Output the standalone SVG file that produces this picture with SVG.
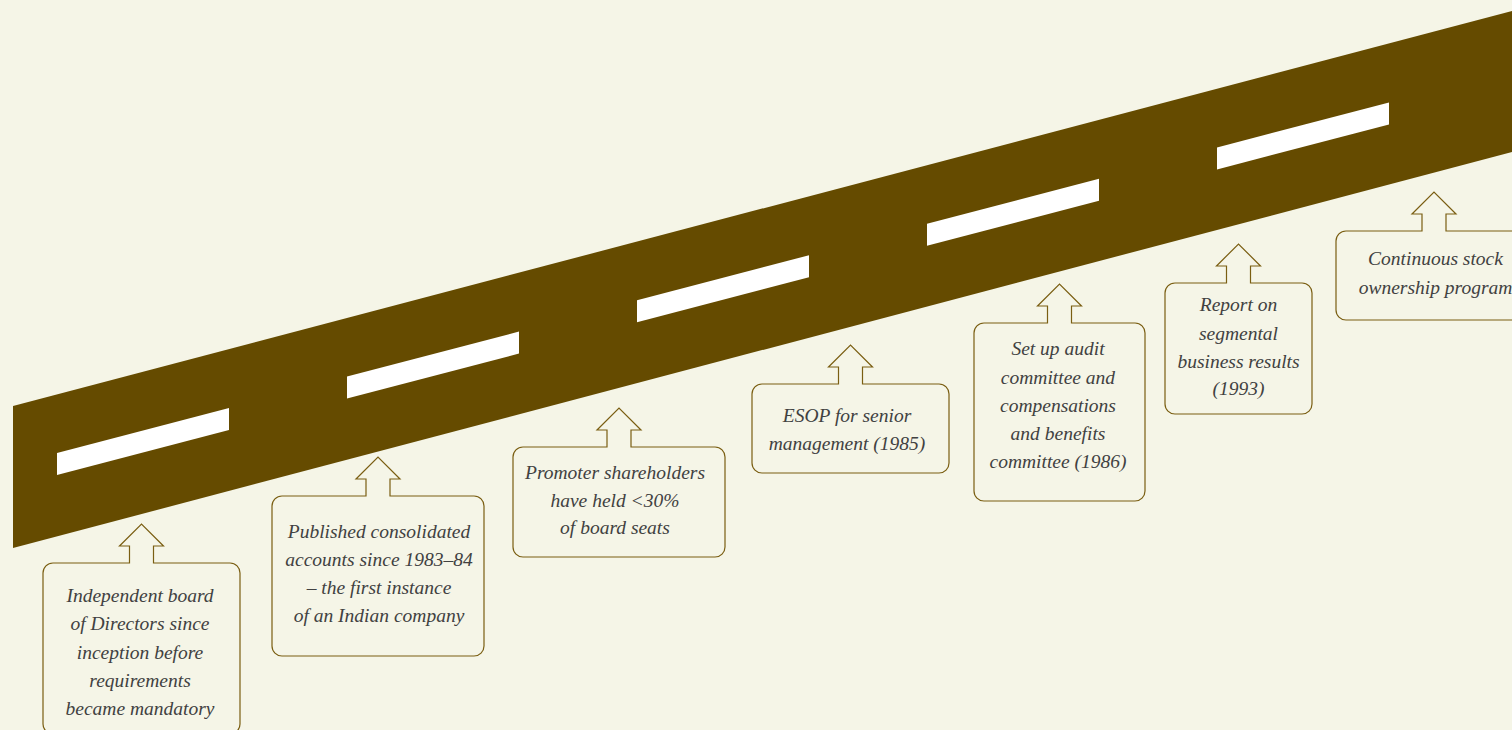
<svg xmlns="http://www.w3.org/2000/svg" xmlns:xlink="http://www.w3.org/1999/xlink" width="1512" height="730" viewBox="0 0 1512 730">
  <style>
    .bg { fill: #f5f5e7; }
    .road { fill: #654b00; }
    .lane { fill: #ffffff; }
    .callout { fill: #f5f5e7; stroke: #7a5e12; stroke-width: 1.2; }
    .label { font-family: "Liberation Serif", "Times New Roman", serif; font-style: italic; font-size: 19.5px; fill: #414141; text-anchor: middle; }
  </style>
  <defs>
    <polygon id="lane-mark" class="lane" points="57,453 229,408 229,430 57,475"/>
  </defs>

  <rect class="bg" x="0" y="0" width="1512" height="730"/>

  <!-- sloping road with lane markings -->
  <g id="road">
    <polygon class="road" points="13,406 1512,11 1512,152 13,548"/>
    <use xlink:href="#lane-mark"/>
    <use xlink:href="#lane-mark" transform="translate(290,-76.4)"/>
    <use xlink:href="#lane-mark" transform="translate(580,-152.8)"/>
    <use xlink:href="#lane-mark" transform="translate(870,-229.2)"/>
    <use xlink:href="#lane-mark" transform="translate(1160,-305.6)"/>
  </g>

  <!-- milestone callouts: box with an up-pointing arrow toward the road -->
  <g id="milestone-board">
    <path class="callout" d="M53,563 H129.5 V546 H119.5 L141.5,524 L163.5,546 H153.5 V563 H230 A10,10 0 0 1 240,573 V724 A10,10 0 0 1 230,734 H53 A10,10 0 0 1 43,724 V573 A10,10 0 0 1 53,563 Z"/>
    <text class="label" x="140" y="602">Independent board</text>
    <text class="label" x="140" y="630">of Directors since</text>
    <text class="label" x="140" y="658.5">inception before</text>
    <text class="label" x="140" y="687">requirements</text>
    <text class="label" x="140" y="715">became mandatory</text>
  </g>

  <g id="milestone-accounts">
    <path class="callout" d="M282,496 H366 V479 H356 L378,457 L400,479 H390 V496 H474 A10,10 0 0 1 484,506 V646 A10,10 0 0 1 474,656 H282 A10,10 0 0 1 272,646 V506 A10,10 0 0 1 282,496 Z"/>
    <text class="label" x="379" y="538">Published consolidated</text>
    <text class="label" x="379" y="566">accounts since 1983–84</text>
    <text class="label" x="379" y="594">– the first instance</text>
    <text class="label" x="379" y="622">of an Indian company</text>
  </g>

  <g id="milestone-promoters">
    <path class="callout" d="M523,447 H607 V430 H597 L619,408 L641,430 H631 V447 H715 A10,10 0 0 1 725,457 V547 A10,10 0 0 1 715,557 H523 A10,10 0 0 1 513,547 V457 A10,10 0 0 1 523,447 Z"/>
    <text class="label" x="615" y="478.5">Promoter shareholders</text>
    <text class="label" x="615" y="506.5">have held &lt;30%</text>
    <text class="label" x="615" y="534">of board seats</text>
  </g>

  <g id="milestone-esop">
    <path class="callout" d="M762,384 H838.5 V367 H828.5 L850.5,345 L872.5,367 H862.5 V384 H939 A10,10 0 0 1 949,394 V463 A10,10 0 0 1 939,473 H762 A10,10 0 0 1 752,463 V394 A10,10 0 0 1 762,384 Z"/>
    <text class="label" x="847" y="422">ESOP for senior</text>
    <text class="label" x="847" y="450">management (1985)</text>
  </g>

  <g id="milestone-committees">
    <path class="callout" d="M984,323 H1047.5 V306 H1037.5 L1059.5,284 L1081.5,306 H1071.5 V323 H1135 A10,10 0 0 1 1145,333 V491 A10,10 0 0 1 1135,501 H984 A10,10 0 0 1 974,491 V333 A10,10 0 0 1 984,323 Z"/>
    <text class="label" x="1058" y="355">Set up audit</text>
    <text class="label" x="1058" y="383.5">committee and</text>
    <text class="label" x="1058" y="411.5">compensations</text>
    <text class="label" x="1058" y="439.5">and benefits</text>
    <text class="label" x="1058" y="468">committee (1986)</text>
  </g>

  <g id="milestone-segments">
    <path class="callout" d="M1175,283 H1226.5 V266 H1216.5 L1238.5,244 L1260.5,266 H1250.5 V283 H1302 A10,10 0 0 1 1312,293 V404 A10,10 0 0 1 1302,414 H1175 A10,10 0 0 1 1165,404 V293 A10,10 0 0 1 1175,283 Z"/>
    <text class="label" x="1238.5" y="311">Report on</text>
    <text class="label" x="1238.5" y="339.5">segmental</text>
    <text class="label" x="1238.5" y="368">business results</text>
    <text class="label" x="1238.5" y="395">(1993)</text>
  </g>

  <g id="milestone-stock">
    <path class="callout" d="M1346,231 H1422 V214 H1412 L1434,192 L1456,214 H1446 V231 H1522 A10,10 0 0 1 1532,241 V310 A10,10 0 0 1 1522,320 H1346 A10,10 0 0 1 1336,310 V241 A10,10 0 0 1 1346,231 Z"/>
    <text class="label" x="1435.5" y="265">Continuous stock</text>
    <text class="label" x="1435.5" y="293.5">ownership program</text>
  </g>
</svg>
